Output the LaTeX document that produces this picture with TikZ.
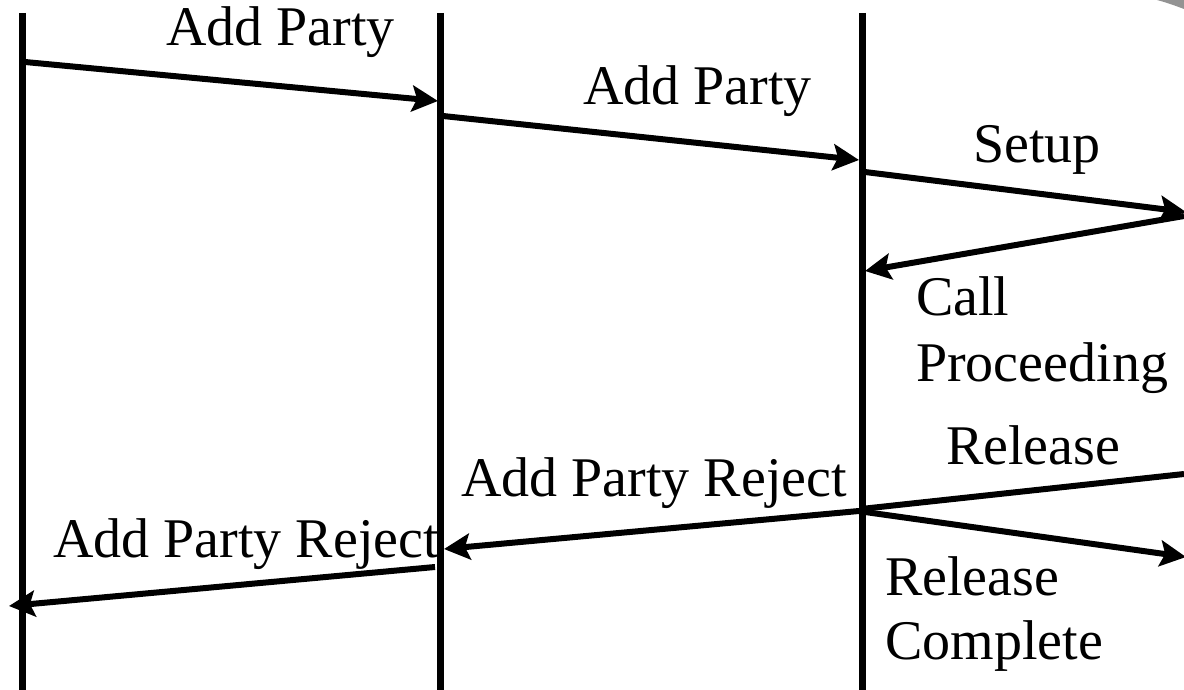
\documentclass[tikz,border=0pt]{standalone}
\usepackage{fontspec}
\setmainfont{Liberation Serif}
\usetikzlibrary{arrows.meta}
\begin{document}
\begin{tikzpicture}[x=1pt,y=-1pt,
  lifeline/.style={line width=7pt},
  msg/.style={line width=6pt,-{Stealth[length=26pt,width=26pt,inset=5pt]}},
  lbl/.style={anchor=base west,inner sep=0pt,font=\fontsize{56}{62}\selectfont}]
\useasboundingbox (0,0) rectangle (1184,690);
% grey shape cut by the top right corner
\fill[gray!85] (1157,0) .. controls (1168,3) and (1176,6) .. (1184,9) -- (1184,0) -- cycle;
% lifelines
\coordinate (l1t) at (22,13);  \coordinate (l1b) at (22,690);
\coordinate (l2t) at (440,13); \coordinate (l2b) at (440,690);
\coordinate (l3t) at (862,13); \coordinate (l3b) at (862,690);
\draw[lifeline] (l1t) -- (l1b);
\draw[lifeline] (l2t) -- (l2b);
\draw[lifeline] (l3t) -- (l3b);
% message end points
\coordinate (a1s) at (25,62);    \coordinate (a1e) at (438,101);
\coordinate (a2s) at (443,116);  \coordinate (a2e) at (859,160);
\coordinate (a3s) at (865,172);  \coordinate (a3e) at (1186,212);
\coordinate (a4s) at (1184,216); \coordinate (a4e) at (865,271);
\coordinate (a5s) at (1184,474); \coordinate (a5e) at (861,509);
\coordinate (a6s) at (859,511);  \coordinate (a6e) at (444,549);
\coordinate (a7s) at (865,512);  \coordinate (a7e) at (1186,557);
\coordinate (a8s) at (435,567);  \coordinate (a8e) at (9,606);
% messages
\draw[msg] (a1s) -- (a1e);
\draw[msg] (a2s) -- (a2e);
\draw[msg] (a3s) -- (a3e);
\draw[msg] (a4s) -- (a4e);
\draw[line width=6pt] (a5s) -- (a5e);
\draw[msg] (a6s) -- (a6e);
\draw[msg] (a7s) -- (a7e);
\draw[msg] (a8s) -- (a8e);
% labels
\node[lbl] (t1) at (166,46) {Add Party};
\node[lbl] (t2) at (583,105) {Add Party};
\node[lbl] (t3) at (973,163) {Setup};
\node[lbl] (t4a) at (916,315) {Call};
\node[lbl] (t4b) at (916,381) {Proceeding};
\node[lbl] (t5) at (946,464) {Release};
\node[lbl] (t6) at (461,496) {Add Party Reject};
\node[lbl] (t8) at (53,557) {Add Party Reject};
\node[lbl] (t7a) at (885,595) {Release};
\node[lbl] (t7b) at (885,659) {Complete};
\end{tikzpicture}
\end{document}
